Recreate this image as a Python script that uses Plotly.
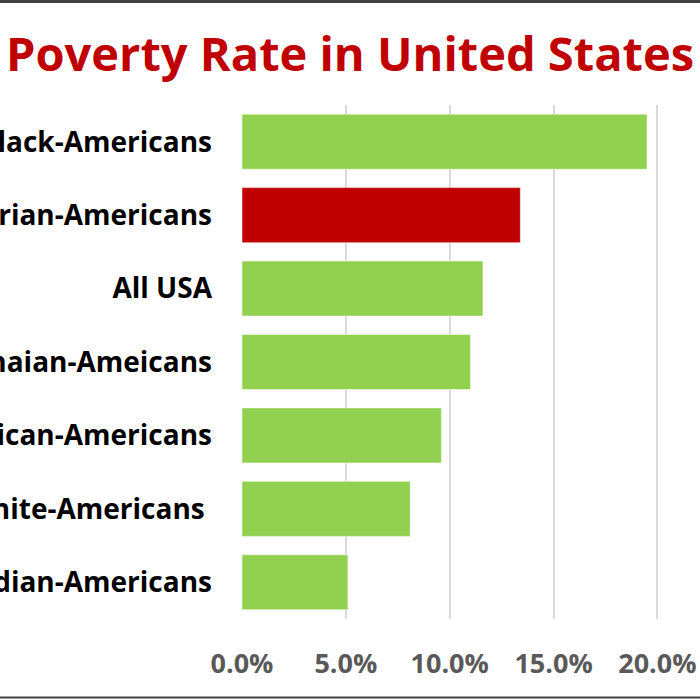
import plotly.graph_objects as go

categories = ["Black-Americans", "Liberian-Americans", "All USA", "Ghanaian-Ameicans",
              "African-Americans", "White-Americans\u00a0", "Indian-Americans"]
poverty_rate = [0.195, 0.134, 0.116, 0.110, 0.096, 0.081, 0.051]
bar_colors = ["#92D050", "#C00000", "#92D050", "#92D050", "#92D050", "#92D050", "#92D050"]
x_tickvals = [0.0, 0.05, 0.10, 0.15, 0.20]
x_ticktext = ["0.0%", "5.0%", "10.0%", "15.0%", "20.0%"]
title_text = "Poverty Rate in United States"

FONT = "Open Sans"

fig = go.Figure(go.Bar(
    x=poverty_rate,
    y=categories,
    orientation="h",
    marker=dict(color=bar_colors, line=dict(color="rgba(255,255,255,0.5)", width=1)),
    hoverinfo="x+y",
))

fig.update_layout(
    width=700, height=700,
    margin=dict(l=242, r=0, t=105, b=81, pad=0, autoexpand=False),
    paper_bgcolor="white", plot_bgcolor="white",
    bargap=0.25,
    showlegend=False,
    title=dict(text=title_text, x=0.5, xref="container", xanchor="center",
               y=1 - 55 / 700, yref="container", yanchor="middle", automargin=False,
               font=dict(family=FONT, size=47, color="#C00000", weight="bold")),
    xaxis=dict(range=[0, 0.2205], tickvals=x_tickvals, ticktext=x_ticktext,
               showgrid=True, gridcolor="#D9D9D9", gridwidth=1.5,
               zeroline=False, showline=False, ticks="", automargin=False,
               ticklabelstandoff=26,
               tickfont=dict(family=FONT, size=27, color="#595959", weight="bold")),
    yaxis=dict(autorange="reversed", showgrid=False, zeroline=False, showline=False,
               ticks="", ticklabelstandoff=29, automargin=False,
               tickfont=dict(family=FONT, size=28, color="#000000", weight="bold")),
    shapes=[
        dict(type="line", xref="paper", yref="paper", x0=-242/458, x1=1.0,
             y0=1 + 103.5/514, y1=1 + 103.5/514, line=dict(color="#404040", width=3)),
        dict(type="line", xref="paper", yref="paper", x0=-242/458, x1=1.0,
             y0=-78.5/514, y1=-78.5/514, line=dict(color="#404040", width=2)),
    ],
)

fig.write_html("out.html", config={"displayModeBar": False},
               post_script="document.body.style.margin='0';document.body.style.overflow='hidden';")
